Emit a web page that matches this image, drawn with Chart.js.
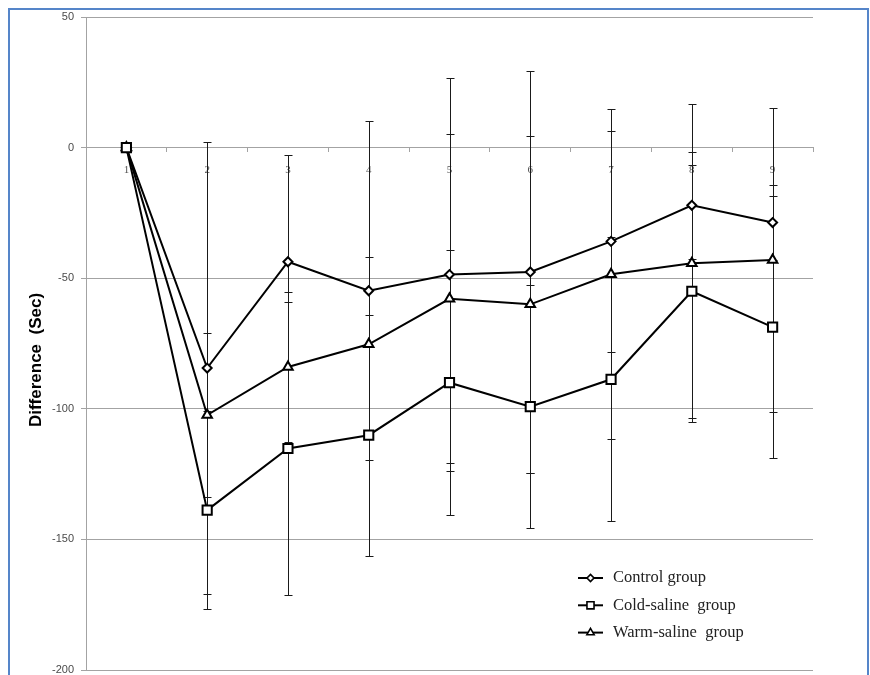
<!DOCTYPE html>
<html>
<head>
<meta charset="utf-8">
<script src="https://cdn.jsdelivr.net/npm/chart.js@4/dist/chart.umd.min.js"></script>
<style>
html,body{margin:0;padding:0;background:#fff;}
#wrap{position:relative;width:870px;height:675px;}
</style>
</head>
<body>
<div id="wrap"><canvas id="c" width="870" height="675"></canvas></div>
<script>
// ---- data ----
const timePoints = ['1','2','3','4','5','6','7','8','9'];
const seriesNames = ['Control group', 'Cold-saline  group', 'Warm-saline  group'];
const controlMean = [0, -84.4, -43.7, -54.8, -48.6, -47.6, -35.9, -22.1, -28.7];
const controlSD   = [0,  86.6,  40.9,  64.9,  75.4,  76.9,  42.3,  20.5,  14.4];
const coldMean    = [0, -138.8, -115.2, -110.1, -90.0, -99.2, -88.7, -55.0, -68.7];
const coldSD      = [0,  37.9,  56.2,  46.2,  50.7,  46.5,  54.3,  48.4,  50.0];
const warmMean    = [0, -102.4, -84.0, -75.3, -57.9, -60.0, -48.5, -44.3, -43.0];
const warmSD      = [0,  31.4,  28.6,  33.4,  63.0,  64.5,  63.1,  60.9,  58.2];
const yMin = -200, yMax = 50, yStep = 50;
const yTitle = 'Difference  (Sec)';

const errorArrays = [controlSD, coldSD, warmSD];

const errorBarPlugin = {
  id: 'errorBars',
  beforeDatasetsDraw(chart) {
    const ctx = chart.ctx, xs = chart.scales.x, ys = chart.scales.y;
    ctx.save();
    ctx.strokeStyle = '#1a1a1a';
    ctx.lineWidth = 1;
    chart.data.datasets.forEach((ds, i) => {
      const sd = errorArrays[i];
      ds.data.forEach((v, j) => {
        if (!sd[j]) return;
        const x = Math.round(xs.getPixelForValue(j)) + 0.5;
        const yt = Math.round(ys.getPixelForValue(v + sd[j])) + 0.5;
        const yb = Math.round(ys.getPixelForValue(v - sd[j])) + 0.5;
        ctx.beginPath();
        ctx.moveTo(x, yt); ctx.lineTo(x, yb);
        ctx.moveTo(x - 4, yt); ctx.lineTo(x + 4, yt);
        ctx.moveTo(x - 4, yb); ctx.lineTo(x + 4, yb);
        ctx.stroke();
      });
    });
    ctx.restore();
  }
};

const decorPlugin = {
  id: 'decor',
  afterDraw(chart) {
    const ctx = chart.ctx, area = chart.chartArea;
    ctx.save();
    // outer frame
    ctx.strokeStyle = '#5585c9';
    ctx.lineWidth = 2;
    ctx.strokeRect(9, 9, 859, 720);
    // y axis title
    ctx.fillStyle = '#000';
    ctx.font = 'bold 17px "Liberation Sans", Arial, sans-serif';
    ctx.textAlign = 'center';
    ctx.textBaseline = 'middle';
    ctx.translate(36, 360);
    ctx.rotate(-Math.PI / 2);
    ctx.fillText(yTitle, 0, 0);
    ctx.restore();

    // legend
    ctx.save();
    const lx = area.right - 235, ly0 = area.bottom - 92, gap = 27.3;
    chart.data.datasets.forEach((ds, i) => {
      const y = ly0 + i * gap;
      ctx.strokeStyle = '#000';
      ctx.lineWidth = 2;
      ctx.beginPath();
      ctx.moveTo(lx, y); ctx.lineTo(lx + 25, y);
      ctx.stroke();
      ctx.fillStyle = '#fff';
      ctx.lineWidth = 1.6;
      Chart.helpers.drawPoint(ctx, {pointStyle: ds.pointStyle, radius: ds.legendRadius, rotation: 0, borderWidth: 1.6}, lx + 12.5, y);
      ctx.fillStyle = '#222';
      ctx.font = '16.5px "Liberation Serif", "Times New Roman", serif';
      ctx.textAlign = 'left';
      ctx.textBaseline = 'middle';
      ctx.fillText(ds.label, lx + 35, y);
    });
    ctx.restore();
  }
};

function makeSet(label, data, style, radius, legendRadius, order) {
  return {
    label, data, order,
    borderColor: '#000', borderWidth: 2,
    backgroundColor: '#fff',
    pointStyle: style, pointRadius: radius,
    pointBorderWidth: 2, pointBackgroundColor: '#fff', pointBorderColor: '#000',
    legendRadius,
    tension: 0, fill: false, clip: false
  };
}

new Chart(document.getElementById('c'), {
  type: 'line',
  data: {
    labels: timePoints,
    datasets: [
      makeSet(seriesNames[0], controlMean, 'rectRot', 4.5, 3.5, 2),
      makeSet(seriesNames[1], coldMean, 'rect', 6.5, 5, 0),
      makeSet(seriesNames[2], warmMean, 'triangle', 5.5, 4.2, 1)
    ]
  },
  options: {
    responsive: false,
    animation: false,
    devicePixelRatio: 1,
    layout: { autoPadding: false, padding: { left: 0, top: 17, right: 57, bottom: 5 } },
    plugins: { legend: { display: false }, tooltip: { enabled: false } },
    scales: {
      y: {
        min: yMin, max: yMax,
        ticks: { stepSize: yStep, color: '#4a4a4a', padding: 7,
                 font: { family: '"Liberation Sans", Arial, sans-serif', size: 11 } },
        grid: { color: '#a3a3a3', lineWidth: 1, tickLength: 5 },
        border: { color: '#a3a3a3', width: 1 },
        afterFit(s) { s.width = 86; s.paddingTop = 0; s.paddingBottom = 0; }
      },
      x: {
        type: 'category',
        position: { y: 0 },
        offset: true,
        ticks: { color: '#555', padding: 12, maxRotation: 0,
                 font: { family: '"Liberation Serif", serif', size: 11 } },
        grid: { offset: true, drawOnChartArea: false, tickLength: 4, color: '#a3a3a3' },
        border: { color: '#a3a3a3', width: 1 }
      }
    }
  },
  plugins: [errorBarPlugin, decorPlugin]
});
</script>
</body>
</html>
